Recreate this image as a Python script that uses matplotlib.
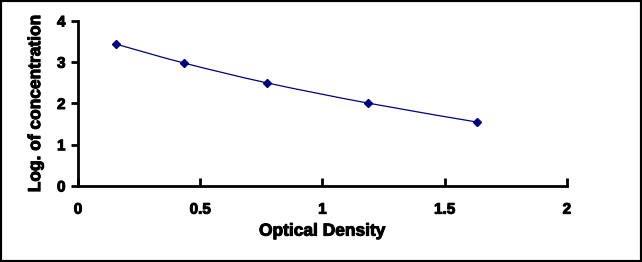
import matplotlib.pyplot as plt
import matplotlib.patheffects as pe
import numpy as np
from matplotlib.patches import PathPatch, Rectangle
from matplotlib.path import Path

plt.rcParams["font.family"] = ["Liberation Sans", "DejaVu Sans"]
plt.rcParams["font.weight"] = "bold"

# standard curve points
optical_density = [0.155, 0.434, 0.773, 1.186, 1.632]
log_concentration = [3.44, 2.98, 2.50, 2.01, 1.55]

x_ticks = [0, 0.5, 1, 1.5, 2]
x_tick_labels = ["0", "0.5", "1", "1.5", "2"]
y_ticks = [0, 1, 2, 3, 4]

NAVY = "#000080"
HEAVY = [pe.withStroke(linewidth=0.7, foreground="black")]


def smooth_path(xs, ys):
    # Catmull-Rom style smoothing drawn as cubic Bezier segments
    pts = np.column_stack([xs, ys])
    verts = [pts[0]]
    codes = [Path.MOVETO]
    n = len(pts)
    for i in range(n - 1):
        p0 = pts[i - 1] if i > 0 else pts[i]
        p1 = pts[i]
        p2 = pts[i + 1]
        p3 = pts[i + 2] if i + 2 < n else pts[i + 1]
        c1 = p1 + (p2 - p0) / 6
        c2 = p2 - (p3 - p1) / 6
        verts += [c1, c2, p2]
        codes += [Path.CURVE4] * 3
    return Path(verts, codes)


def main():
    fig = plt.figure(figsize=(6.42, 2.62), dpi=100)
    ax = fig.add_axes([0.1215, 0.290, 0.7615, 0.630])

    ax.add_patch(PathPatch(smooth_path(optical_density, log_concentration),
                           facecolor="none", edgecolor=NAVY, linewidth=0.9))
    ax.plot(optical_density, log_concentration, linestyle="none", marker="D",
            markersize=4.5, color=NAVY)

    ax.set_xlim(0, 2)
    ax.set_ylim(0, 4)
    ax.set_xticks(x_ticks)
    ax.set_xticklabels(x_tick_labels)
    ax.set_yticks(y_ticks)

    for side in ("top", "right"):
        ax.spines[side].set_visible(False)
    for side in ("left", "bottom"):
        ax.spines[side].set_linewidth(2)
    ax.tick_params(axis="y", direction="out", length=5, width=2, pad=4,
                   labelsize=11)
    ax.tick_params(axis="x", direction="in", length=6, width=2, pad=12,
                   labelsize=11)
    for lbl in ax.get_xticklabels() + ax.get_yticklabels():
        lbl.set_fontweight("bold")
        lbl.set_path_effects(HEAVY)

    ax.set_xlabel("Optical Density", fontsize=12.5, fontweight="bold",
                  labelpad=5, path_effects=HEAVY)
    ax.set_ylabel("Log. of concentration", fontsize=12.5, fontweight="bold",
                  labelpad=10, path_effects=HEAVY)

    fig.patches.append(Rectangle((0, 0), 1, 1, transform=fig.transFigure,
                                 fill=False, edgecolor="black", linewidth=3))

    fig.savefig("out.png", dpi=100)
    plt.close(fig)


if __name__ == "__main__":
    main()
